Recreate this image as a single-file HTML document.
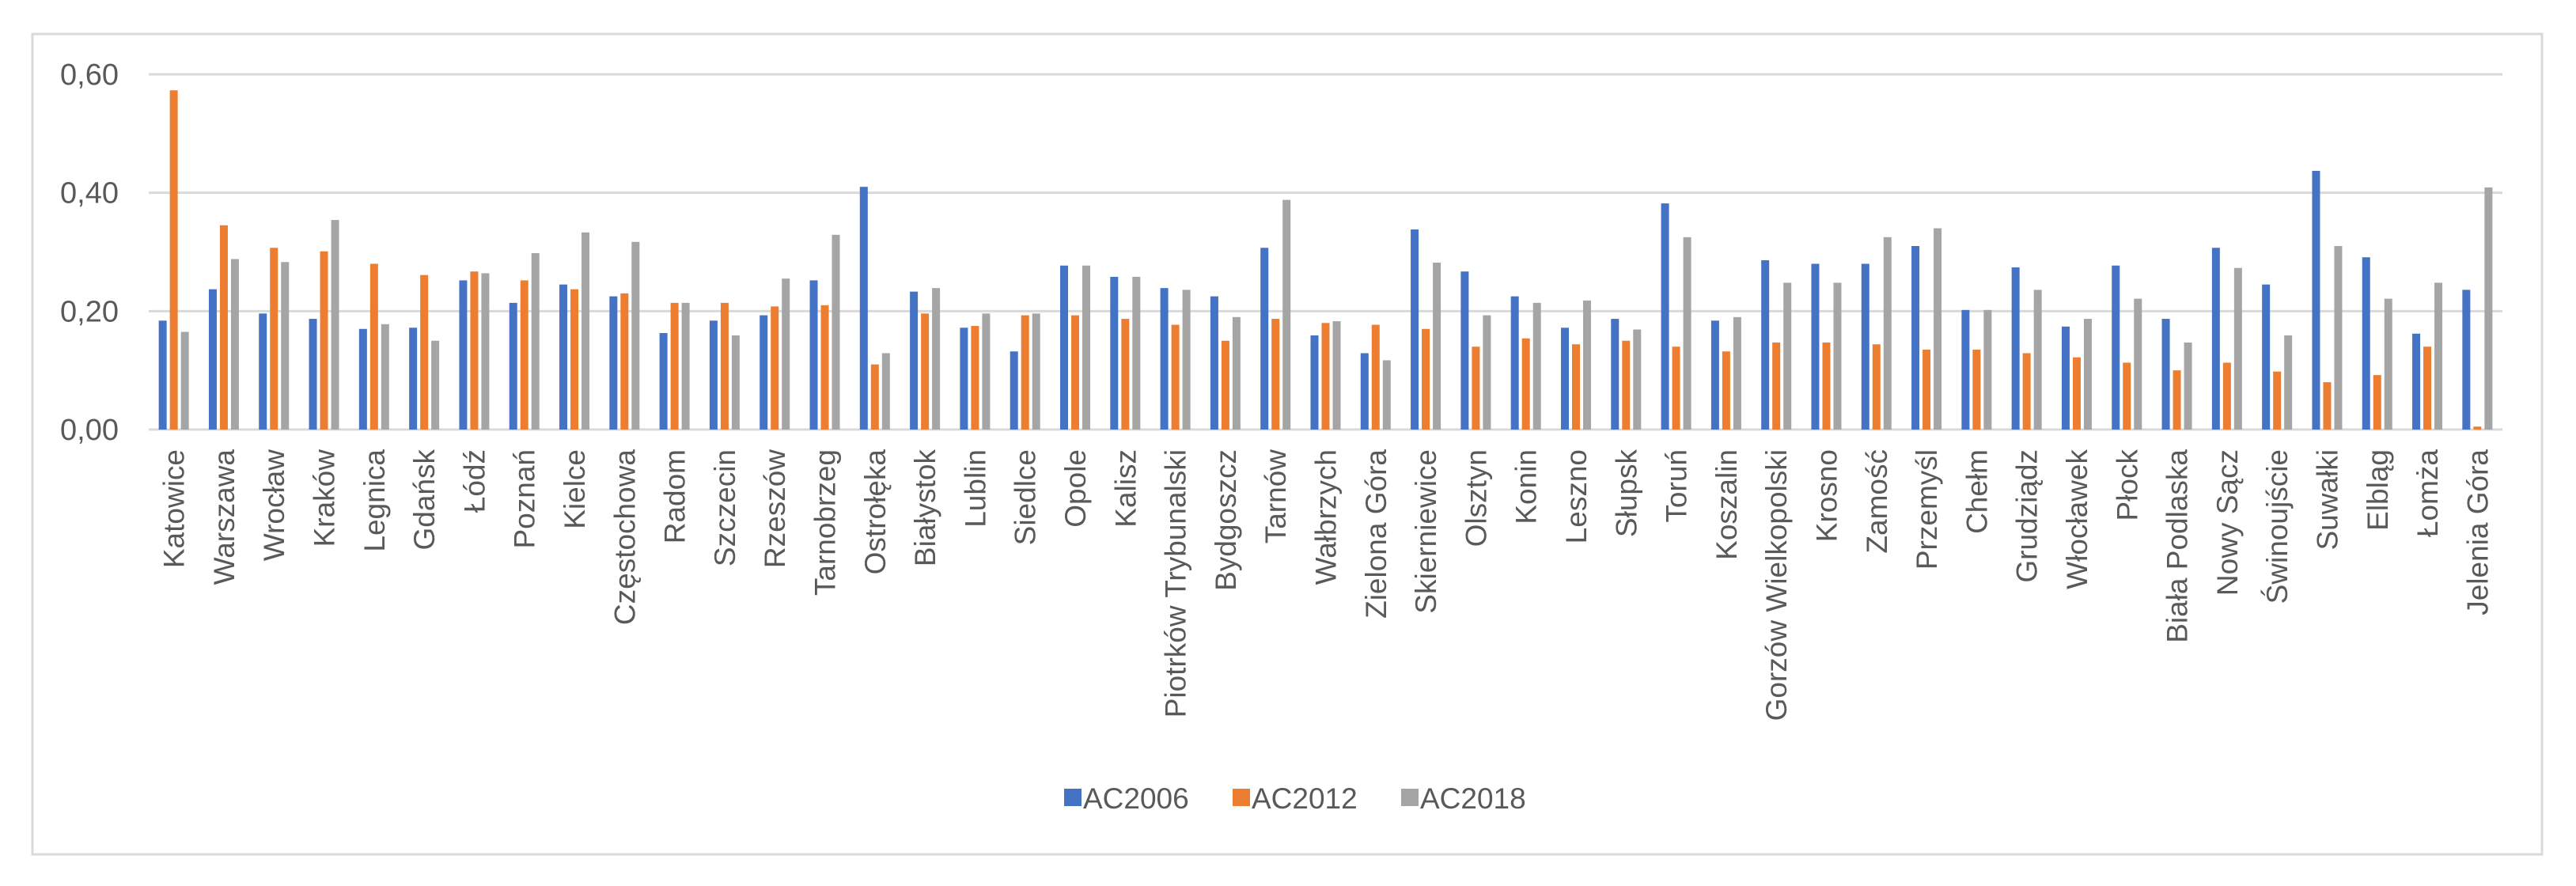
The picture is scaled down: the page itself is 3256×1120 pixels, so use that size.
<!DOCTYPE html>
<html><head><meta charset="utf-8"><style>
html,body{margin:0;padding:0;background:#fff;}
svg{display:block;}
text{font-family:"Liberation Sans",sans-serif;fill:#595959;}
</style></head><body>
<svg id="chart" width="3256" height="1120" viewBox="0 0 3256 1120" xmlns="http://www.w3.org/2000/svg">
<rect x="41" y="43" width="3172" height="1037" fill="#fff" stroke="#D9D9D9" stroke-width="3"/>
<g id="grid"></g><g id="bars"></g><g id="xlabels"></g><g id="ylabels"></g>
<g id="legend"></g>
</svg>
<script>
const categories=["Katowice","Warszawa","Wrocław","Kraków","Legnica","Gdańsk","Łódź","Poznań","Kielce","Częstochowa","Radom","Szczecin","Rzeszów","Tarnobrzeg","Ostrołęka","Białystok","Lublin","Siedlce","Opole","Kalisz","Piotrków Trybunalski","Bydgoszcz","Tarnów","Wałbrzych","Zielona Góra","Skierniewice","Olsztyn","Konin","Leszno","Słupsk","Toruń","Koszalin","Gorzów Wielkopolski","Krosno","Zamość","Przemyśl","Chełm","Grudziądz","Włocławek","Płock","Biała Podlaska","Nowy Sącz","Świnoujście","Suwałki","Elbląg","Łomża","Jelenia Góra"];
const ac2006=[0.184,0.237,0.196,0.187,0.170,0.172,0.252,0.214,0.245,0.225,0.163,0.184,0.193,0.252,0.410,0.233,0.172,0.132,0.277,0.258,0.239,0.225,0.307,0.159,0.129,0.338,0.267,0.225,0.172,0.187,0.382,0.184,0.286,0.280,0.280,0.310,0.202,0.274,0.174,0.277,0.187,0.307,0.245,0.437,0.291,0.162,0.236];
const ac2012=[0.573,0.345,0.307,0.301,0.280,0.261,0.267,0.252,0.237,0.230,0.214,0.214,0.208,0.210,0.110,0.196,0.175,0.193,0.193,0.187,0.177,0.150,0.187,0.180,0.177,0.170,0.140,0.154,0.144,0.150,0.140,0.132,0.147,0.147,0.144,0.135,0.135,0.129,0.122,0.113,0.100,0.113,0.098,0.080,0.092,0.140,0.005];
const ac2018=[0.165,0.288,0.283,0.354,0.178,0.150,0.264,0.298,0.333,0.317,0.214,0.159,0.255,0.329,0.129,0.239,0.196,0.196,0.277,0.258,0.236,0.190,0.388,0.183,0.117,0.282,0.193,0.214,0.218,0.169,0.325,0.190,0.248,0.248,0.325,0.340,0.202,0.236,0.187,0.221,0.147,0.273,0.159,0.310,0.221,0.248,0.409];
const seriesNames=["AC2006","AC2012","AC2018"];
const yTicks=[0,0.2,0.4,0.6];
const yTickLabels=["0,00","0,20","0,40","0,60"];

const NS="http://www.w3.org/2000/svg";
const X0=188,X1=3163,Y0=543,YMAX=0.6,YTOP=94;
const colors=["#4472C4","#ED7D31","#A5A5A5"];
const series=[ac2006,ac2012,ac2018];
const step=(X1-X0)/categories.length;
function xc(i){return X0+step*(i+0.5);}
function y(v){return Y0-(v/YMAX)*(Y0-YTOP);}
function mk(tag,attrs,parent){const e=document.createElementNS(NS,tag);for(const k in attrs)e.setAttribute(k,attrs[k]);parent.appendChild(e);return e;}

const grid=document.getElementById('grid'),ylab=document.getElementById('ylabels');
yTicks.forEach((t,i)=>{
  const l=mk('line',{x1:X0,x2:X1,y1:y(t),y2:y(t),stroke:'#D9D9D9','stroke-width':3},grid);
  
  
  const tx=mk('text',{x:150,y:y(t)+13,'text-anchor':'end','font-size':38},ylab);
  tx.textContent=yTickLabels[i];
  
  
});
const bars=document.getElementById('bars'),xl=document.getElementById('xlabels');
const BW=10,PITCH=14;
categories.forEach((c,i)=>{
  series.forEach((s,k)=>{
    const v=s[i];
    const r=mk('rect',{x:xc(i)+(k-1)*PITCH-BW/2,y:y(v),width:BW,height:Y0-y(v),fill:colors[k]},bars);
    
    
  });
  const t=mk('text',{x:0,y:0,'text-anchor':'end','font-size':37,transform:`translate(${xc(i)+13},568) rotate(-90)`},xl);
  t.textContent=c;
  
  
});
const lg=document.getElementById('legend');
const lx=[1345,1558,1771];
seriesNames.forEach((n,k)=>{
  const sq=mk('rect',{x:lx[k],y:997,width:22,height:22,fill:colors[k]},lg);
  
  
  const t=mk('text',{x:lx[k]+24,y:1022,'font-size':37},lg);
  t.textContent=n;
  
  
});
</script>
</body></html>
